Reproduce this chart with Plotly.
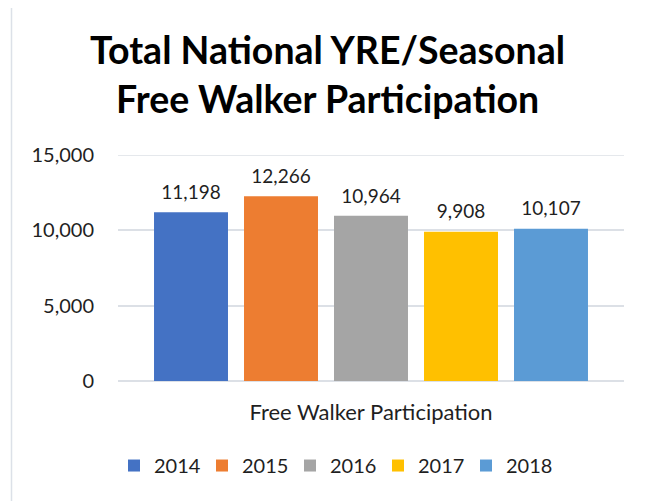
import plotly.graph_objects as go

years = ["2014", "2015", "2016", "2017", "2018"]
values = [11198, 12266, 10964, 9908, 10107]
category = ["Free Walker Participation"]
colors = ["#4472C4", "#ED7D31", "#A5A5A5", "#FFC000", "#5B9BD5"]
title_lines = ["Total National YRE/Seasonal", "Free Walker Participation"]
y_ticks = [0, 5000, 10000, 15000]

FONT = "Lato"
TXT = "#1f1f1f"
GRID = "#DCE0E6"

# page body adds an 8px margin; the figure is sized so it fits the window
OFF = 8
W, H = 658 - OFF, 501 - OFF
# plot area in screenshot pixels
PX0, PX1, PY0, PY1 = 118, 624, 155.3, 380.7
L = PX0 - OFF
R = W - (PX1 - OFF)
T = PY0 - OFF
B = H - (PY1 - OFF)
pw = PX1 - PX0
ph = PY1 - PY0

def px_x(x):
    return (x - PX0) / pw

def px_y(y):
    return (PY1 - y) / ph

fig = go.Figure()
for yr, v, c in zip(years, values, colors):
    fig.add_trace(go.Bar(
        x=category, y=[v], name=yr, offsetgroup=yr,
        marker=dict(color=c, line=dict(width=0)),
        hoverinfo="skip",
    ))
for yr, v in zip(years, values):
    fig.add_trace(go.Scatter(
        x=category, y=[v], name=yr, offsetgroup=yr, showlegend=False,
        mode="markers+text", marker=dict(size=12, opacity=0),
        text=[v], texttemplate="%{y:,}", textposition="top center",
        textfont=dict(family=FONT, size=19, color=TXT),
        cliponaxis=False,
    ))

fig.update_layout(
    width=W, height=H,
    margin=dict(l=L, r=R, t=T, b=B, pad=0),
    paper_bgcolor="white", plot_bgcolor="white",
    barmode="group", bargap=0.1107, bargroupgap=0.178,
    scattermode="group", scattergap=0.1107,
    font=dict(family=FONT, size=20, color=TXT),
    showlegend=True,
    legend=dict(orientation="h", x=px_x(114), xanchor="left",
                y=px_y(465), yanchor="middle",
                font=dict(family=FONT, size=20, color=TXT),
                entrywidth=43, entrywidthmode="pixels",
                bgcolor="rgba(0,0,0,0)"),
    xaxis=dict(showgrid=False, showline=False, zeroline=False, ticks="",
               tickfont=dict(family=FONT, size=22, color=TXT),
               ticklabelstandoff=16),
    yaxis=dict(range=[0, y_ticks[-1]], tickvals=y_ticks, tickformat=",",
               showgrid=True, gridcolor=GRID, gridwidth=1.5,
               zeroline=True, zerolinecolor=GRID, zerolinewidth=1.5,
               showline=False, ticks="",
               tickfont=dict(family=FONT, size=20, color=TXT),
               ticklabelstandoff=23),
    shapes=[
        dict(type="line", xref="paper", yref="y", x0=0, x1=1,
             y0=y_ticks[-1], y1=y_ticks[-1],
             line=dict(color=GRID, width=1.5), layer="below"),
        dict(type="rect", xref="paper", yref="paper",
             x0=px_x(11.5), x1=px_x(652.5), y0=px_y(520), y1=px_y(4),
             line=dict(color="#DCE1E8", width=1.5), layer="below"),
    ],
    annotations=[
        dict(text=title_lines[0], xref="paper", yref="paper", x=px_x(327), y=px_y(50),
             xanchor="center", yanchor="middle", showarrow=False,
             font=dict(family=FONT, size=37.5, color="#000000", weight="bold")),
        dict(text=title_lines[1], xref="paper", yref="paper", x=px_x(327), y=px_y(99),
             xanchor="center", yanchor="middle", showarrow=False,
             font=dict(family=FONT, size=37.5, color="#000000", weight="bold")),
    ],
)

fig.write_html("out.html")
